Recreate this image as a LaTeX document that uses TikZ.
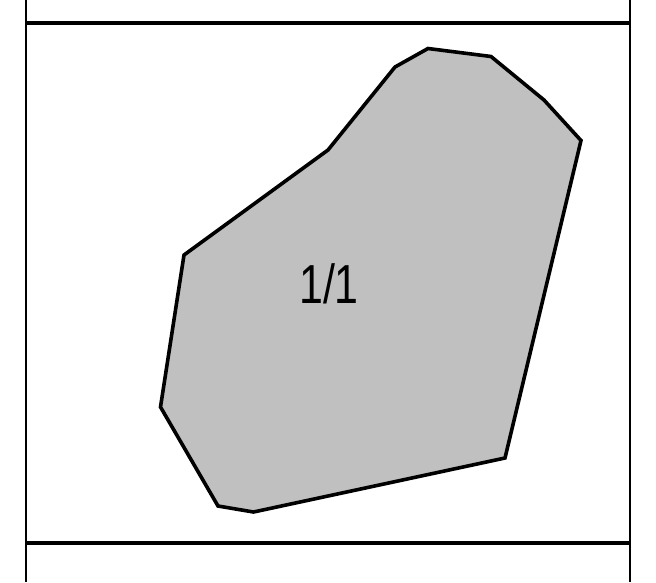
\documentclass[tikz,border=0pt]{standalone}
\usepackage{fontspec}
\setmainfont{Liberation Sans}
\begin{document}
\begin{tikzpicture}[x=1pt,y=-1pt,
  frame/.style={draw=black,line width=3.3pt},
  vline/.style={draw=black,line width=2.5pt},
  blob/.style={draw=black,fill=black!24.7,line width=3.6pt,line join=miter}]
\useasboundingbox (0,0) rectangle (656,582);
\draw[vline] (26,0) -- (26,582);
\draw[vline] (630,0) -- (630,582);
\draw[frame] (26,23) -- (630,23);
\draw[frame] (26,543) -- (630,543);
\path[blob] (395,67) -- (428,48.5) -- (491,56.5) -- (544,100) -- (581,140.5) -- (505,458) -- (253.5,512) -- (218,506) -- (160.5,407) -- (184,255) -- (328,150) -- cycle;
\node[font=\fontsize{55}{60}\selectfont,xscale=0.78,inner sep=0] (lbl) at (329,284) {1/1};
\end{tikzpicture}
\end{document}
